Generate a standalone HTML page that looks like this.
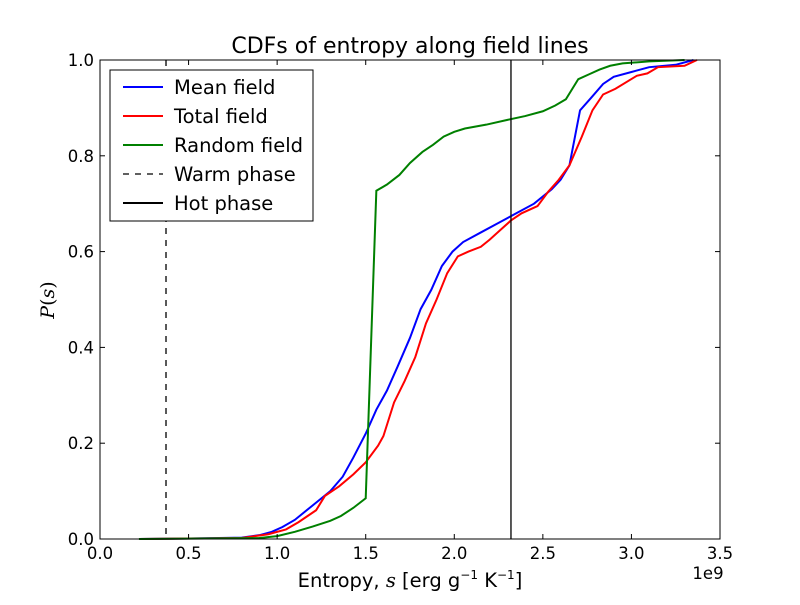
<!DOCTYPE html>
<html><head><meta charset="utf-8"><style>
body{margin:0;background:#fff;}
svg{font-family:"DejaVu Sans","Liberation Sans",sans-serif;}
</style></head><body>
<svg id="chart" width="800" height="600" xmlns="http://www.w3.org/2000/svg">
<rect width="800" height="600" fill="#fff"/>
<text x="410" y="53" font-size="22" text-anchor="middle">CDFs of entropy along field lines</text>
<g id="plot"></g>
</svg>
<script>
const xTicks=[0,0.5,1.0,1.5,2.0,2.5,3.0,3.5];
const yTicks=[0,0.2,0.4,0.6,0.8,1.0];
const meanX=[0.22,0.5,0.8,0.9,0.97,1.03,1.1,1.2,1.3,1.37,1.43,1.5,1.56,1.62,1.68,1.75,1.81,1.87,1.93,1.99,2.05,2.15,2.25,2.35,2.45,2.55,2.6,2.65,2.71,2.77,2.84,2.9,3.0,3.1,3.25,3.35];
const meanY=[0,0.001,0.003,0.008,0.015,0.025,0.04,0.07,0.1,0.13,0.17,0.22,0.27,0.31,0.36,0.42,0.48,0.52,0.57,0.6,0.62,0.64,0.66,0.68,0.70,0.73,0.75,0.78,0.895,0.92,0.95,0.965,0.975,0.985,0.99,1.0];
const totalX=[0.22,0.8,0.95,1.05,1.12,1.22,1.27,1.35,1.43,1.5,1.57,1.6,1.66,1.72,1.78,1.84,1.9,1.96,2.02,2.08,2.15,2.2,2.26,2.32,2.38,2.47,2.53,2.59,2.65,2.72,2.78,2.84,2.91,3.03,3.09,3.15,3.3,3.37];
const totalY=[0,0.002,0.01,0.02,0.035,0.06,0.09,0.11,0.135,0.16,0.195,0.215,0.285,0.33,0.38,0.45,0.5,0.555,0.59,0.6,0.61,0.625,0.645,0.665,0.68,0.695,0.725,0.75,0.78,0.84,0.895,0.928,0.94,0.967,0.972,0.985,0.988,1.0];
const randX=[0.22,0.9,1.0,1.1,1.2,1.3,1.36,1.43,1.5,1.56,1.62,1.69,1.75,1.82,1.88,1.94,2.0,2.06,2.18,2.3,2.4,2.5,2.57,2.63,2.7,2.76,2.82,2.88,2.95,3.1,3.3];
const randY=[0,0.002,0.006,0.015,0.026,0.038,0.048,0.065,0.085,0.727,0.74,0.76,0.785,0.808,0.823,0.84,0.85,0.857,0.865,0.875,0.883,0.893,0.905,0.918,0.96,0.97,0.98,0.988,0.993,0.997,1.0];
const warmX=0.3726, hotX=2.32;
const L=100,R=720,T=60,B=539;
const sx=v=>L+v/3.5*(R-L), sy=v=>B-v*(B-T);
const NS='http://www.w3.org/2000/svg';
const g=document.getElementById('plot');
function mk(tag,attrs,parent){const e=document.createElementNS(NS,tag);for(const k in attrs)e.setAttribute(k,attrs[k]);(parent||g).appendChild(e);return e;}
function series(xs,ys,color,name){
  const p=mk('polyline',{points:xs.map((x,i)=>sx(x)+','+sy(ys[i])).join(' '),fill:'none',stroke:color,'stroke-width':2});
  
  
}
series(meanX,meanY,'#0000ff','mean-field-line');
series(totalX,totalY,'#ff0000','total-field-line');
series(randX,randY,'#008000','random-field-line');
const w=mk('line',{x1:sx(warmX),x2:sx(warmX),y1:T,y2:B,stroke:'#000','stroke-width':1.3,'stroke-dasharray':'6,6'});


const h=mk('line',{x1:sx(hotX),x2:sx(hotX),y1:T,y2:B,stroke:'#000','stroke-width':1.3});


const fr=mk('rect',{x:L,y:T,width:R-L,height:B-T,fill:'none',stroke:'#000','stroke-width':1});


xTicks.forEach(v=>{
  const x=sx(v);
  mk('line',{x1:x,x2:x,y1:B,y2:B-5,stroke:'#000'});
  mk('line',{x1:x,x2:x,y1:T,y2:T+5,stroke:'#000'});
  const t=mk('text',{x:x,y:B+20,'font-size':16.5,'text-anchor':'middle'});t.textContent=v.toFixed(1);
  
  
});
yTicks.forEach(v=>{
  const y=sy(v);
  mk('line',{x1:L,x2:L+5,y1:y,y2:y,stroke:'#000'});
  mk('line',{x1:R,x2:R-5,y1:y,y2:y,stroke:'#000'});
  const t=mk('text',{x:L-6,y:y+6,'font-size':16.5,'text-anchor':'end'});t.textContent=v.toFixed(1);
  
  
});
const ex=mk('text',{x:708,y:579,'font-size':16.5,'text-anchor':'middle'});ex.textContent='1e9';


const xl=mk('text',{x:410,y:587,'font-size':19.5,'text-anchor':'middle'});
xl.innerHTML='Entropy, <tspan font-style="italic" font-family="DejaVu Serif">s</tspan> [erg g<tspan font-size="12" dy="-8">−1</tspan><tspan dy="8"> K</tspan><tspan font-size="12" dy="-8">−1</tspan><tspan dy="8">]</tspan>';


const yl=mk('text',{x:54,y:300,'font-size':19,'text-anchor':'middle',transform:'rotate(-90 54 300)','font-family':'DejaVu Serif'});
yl.innerHTML='<tspan font-style="italic">P</tspan>(<tspan font-style="italic">s</tspan>)';


const lg=mk('g',{});


mk('rect',{x:110,y:70,width:203,height:151,fill:'#fff',stroke:'#000'},lg);
const entries=[['Mean field','#0000ff',''],['Total field','#ff0000',''],['Random field','#008000',''],['Warm phase','#000','6,6'],['Hot phase','#000','']];
entries.forEach((e,i)=>{
  const y=87+i*29;
  const a={x1:123,x2:163,y1:y,y2:y,stroke:e[1],'stroke-width':e[2]?1.3:2};
  if(e[2])a['stroke-dasharray']=e[2];
  mk('line',a,lg);
  const t=mk('text',{x:174,y:y+7,'font-size':19.5},lg);t.textContent=e[0];
  
  
});
</script>
</body></html>
